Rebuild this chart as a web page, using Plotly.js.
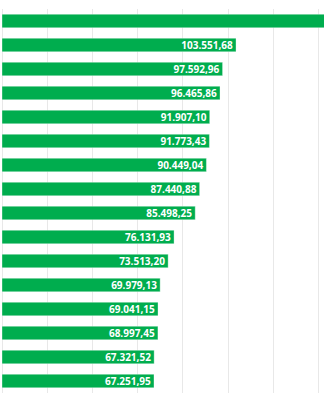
<!DOCTYPE html>
<html>
<head>
<meta charset="utf-8">
<script src="https://cdn.plot.ly/plotly-3.0.1.min.js"></script>
<style>
html, body { margin: 0; padding: 0; overflow: hidden; background: #fff; }
#chart { width: 460px; height: 400px; }
</style>
</head>
<body>
<div id="chart"></div>
<script>
const categories = ["Item 1","Item 2","Item 3","Item 4","Item 5","Item 6","Item 7","Item 8",
                    "Item 9","Item 10","Item 11","Item 12","Item 13","Item 14","Item 15","Item 16"];
const values = [175000, 103551.68, 97592.96, 96465.86, 91907.10, 91773.43, 90449.04, 87440.88,
                85498.25, 76131.93, 73513.20, 69979.13, 69041.15, 68997.45, 67321.52, 67251.95];

const trace = {
  type: 'bar',
  orientation: 'h',
  x: values,
  y: categories,
  marker: { color: '#00ad4e', line: { color: 'rgba(255,255,255,0.35)', width: 1 } },
  texttemplate: '%{x:,.2f}',
  textposition: 'inside',
  insidetextanchor: 'end',
  constraintext: 'none',
  textfont: { family: 'Open Sans', size: 10, color: '#ffffff', weight: 'bold' },
  hoverinfo: 'none'
};

const layout = {
  width: 460,
  height: 400,
  margin: { l: 2, r: 0, t: 9, b: 7 },
  paper_bgcolor: '#ffffff',
  plot_bgcolor: '#ffffff',
  separators: ',.',
  bargap: 0.44,
  font: { family: 'Open Sans', size: 10 },
  showlegend: false,
  xaxis: {
    range: [0, 202655],
    dtick: 20000,
    showgrid: true,
    gridcolor: '#e8e8e8',
    gridwidth: 1,
    zeroline: true,
    zerolinecolor: '#e8e8e8',
    zerolinewidth: 1,
    showticklabels: false,
    ticks: '',
    showline: false
  },
  yaxis: {
    autorange: 'reversed',
    showticklabels: false,
    showgrid: false,
    ticks: '',
    showline: false,
    zeroline: false
  }
};

Plotly.newPlot('chart', [trace], layout, { displayModeBar: false, staticPlot: true });
</script>
</body>
</html>
